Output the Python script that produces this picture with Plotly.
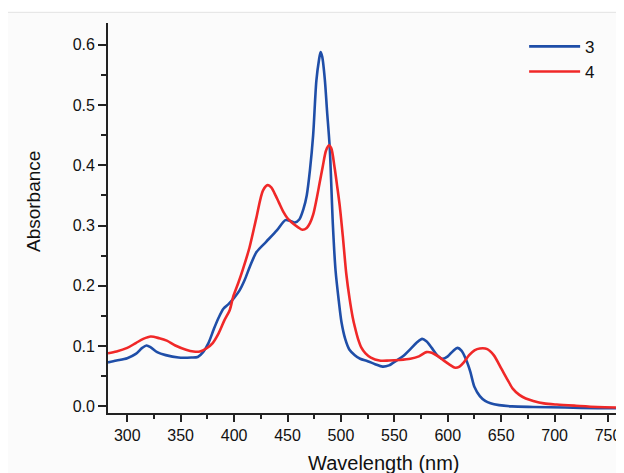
import plotly.graph_objects as go

# Series 3 (blue)
wl_3 = [282, 290, 300, 308, 314, 318, 322, 328, 336, 348, 360, 366, 371, 376, 381, 385, 390, 395,
        400, 405, 410, 415, 421, 430, 440, 448, 452, 457, 461, 465, 468, 471, 474, 477, 479.5, 481,
        482.5, 485, 487, 489.5, 492.5, 495, 498, 500.5, 504, 508, 513, 518, 525, 532, 539, 545,
        552, 558, 565, 571, 576, 580, 585, 590, 595, 600, 605, 609, 613, 617, 621, 625, 630, 635,
        640, 648, 660, 680, 710, 740, 764]
abs_3 = [0.073, 0.076, 0.080, 0.087, 0.097, 0.101, 0.098, 0.090, 0.085, 0.081, 0.081, 0.082, 0.090,
         0.105, 0.128, 0.145, 0.162, 0.170, 0.180, 0.192, 0.210, 0.233, 0.256, 0.273, 0.292, 0.309,
         0.308, 0.305, 0.310, 0.328, 0.350, 0.392, 0.450, 0.540, 0.575, 0.588, 0.580, 0.541, 0.490,
         0.430, 0.300, 0.225, 0.175, 0.140, 0.112, 0.094, 0.085, 0.079, 0.075, 0.070, 0.066, 0.068,
         0.076, 0.083, 0.095, 0.106, 0.112, 0.108, 0.097, 0.085, 0.079, 0.083, 0.092, 0.097, 0.092,
         0.078, 0.058, 0.032, 0.017, 0.009, 0.005, 0.002, 0.000, -0.001, -0.002, -0.003, -0.003]

# Series 4 (red)
wl_4 = [282, 290, 300, 308, 315, 322, 330, 337, 345, 355, 362, 368, 374, 380, 385.5, 391, 396, 399,
        404, 408, 414.5, 421, 427, 431.5, 435, 438, 442, 446, 450, 454, 460, 464, 468, 471, 474,
        477, 480, 483, 486, 488.8, 491, 494, 496.5, 499, 502, 505, 508, 511, 513, 516, 519, 523,
        528, 536, 545, 555, 565, 573, 580, 585, 591, 597, 602, 607, 611, 615, 620, 625, 630, 637,
        643, 650, 656, 661, 667, 673, 680, 690, 702, 720, 740, 764]
abs_4 = [0.088, 0.091, 0.097, 0.105, 0.112, 0.116, 0.113, 0.109, 0.101, 0.094, 0.091, 0.091, 0.096,
         0.105, 0.121, 0.143, 0.160, 0.181, 0.205, 0.226, 0.264, 0.314, 0.358, 0.367, 0.363, 0.353,
         0.338, 0.323, 0.312, 0.305, 0.297, 0.293, 0.296, 0.304, 0.318, 0.342, 0.370, 0.398, 0.424,
         0.433, 0.428, 0.397, 0.365, 0.331, 0.278, 0.220, 0.180, 0.148, 0.132, 0.112, 0.098, 0.088,
         0.081, 0.076, 0.076, 0.077, 0.079, 0.083, 0.090, 0.089, 0.083, 0.075, 0.069, 0.064, 0.066,
         0.073, 0.085, 0.093, 0.096, 0.095, 0.085, 0.063, 0.044, 0.029, 0.019, 0.013, 0.009, 0.005,
         0.003, 0.001, -0.001, -0.002]

x_ticks = [300, 350, 400, 450, 500, 550, 600, 650, 700, 750]
y_ticks = [0.0, 0.1, 0.2, 0.3, 0.4, 0.5, 0.6]
y_tick_labels = ["0.0", "0.1", "0.2", "0.3", "0.4", "0.5", "0.6"]

fig = go.Figure()
fig.add_trace(go.Scatter(x=wl_3, y=abs_3, mode="lines", name="3",
                         line=dict(color="#1f4ea8", width=2.6, shape="spline", smoothing=0.8)))
fig.add_trace(go.Scatter(x=wl_4, y=abs_4, mode="lines", name="4",
                         line=dict(color="#f02828", width=2.6, shape="spline", smoothing=0.8)))

FONT = "Liberation Sans, Arial, sans-serif"
axis_font = dict(family=FONT, size=16, color="#111111")

# The page body has an 8px default margin, so the figure is sized to fit inside it.
fig.update_layout(
    width=616, height=465,
    margin=dict(l=100, r=1, t=15, b=60),
    paper_bgcolor="#ffffff",
    plot_bgcolor="rgba(0,0,0,0)",
    font=axis_font,
    showlegend=True,
    legend=dict(x=0.808, y=0.985, xanchor="left", yanchor="top",
                bgcolor="rgba(0,0,0,0)", itemwidth=51,
                font=dict(family=FONT, size=17, color="#111111"),
                tracegroupgap=0),
    xaxis=dict(range=[282, 764], tickvals=x_ticks, ticks="outside", ticklen=7, tickwidth=1.5,
               tickcolor="#222222", showline=True, linecolor="#222222", linewidth=1.8,
               showgrid=False, zeroline=False, tickfont=axis_font,
               minor=dict(dtick=25, tick0=275, ticks="outside", ticklen=4, tickwidth=1.5,
                          tickcolor="#222222", showgrid=False)),
    yaxis=dict(range=[-0.011, 0.636], tickvals=y_ticks, ticktext=y_tick_labels, ticks="outside",
               ticklen=8, tickwidth=1.5, tickcolor="#222222", showline=True, linecolor="#222222",
               linewidth=1.8, showgrid=False, zeroline=False, tickfont=axis_font,
               minor=dict(dtick=0.05, tick0=0, ticks="outside", ticklen=5, tickwidth=1.5,
                          tickcolor="#222222", showgrid=False)),
    shapes=[dict(type="rect", xref="paper", yref="paper", x0=-0.198, x1=1.05, y0=-0.2, y1=1.0274,
                 fillcolor="#fbfbfb", line=dict(color="#e2e2e2", width=1), layer="below")],
    annotations=[
        dict(text="Wavelength (nm)", xref="paper", yref="paper", x=0.536, y=-0.127,
             showarrow=False, xanchor="center", yanchor="middle",
             font=dict(family=FONT, size=20, color="#111111")),
        dict(text="Absorbance", xref="paper", yref="paper", x=-0.146, y=0.543, textangle=-90,
             showarrow=False, xanchor="center", yanchor="middle",
             font=dict(family=FONT, size=19, color="#111111")),
    ],
)

fig.write_html("out.html")
